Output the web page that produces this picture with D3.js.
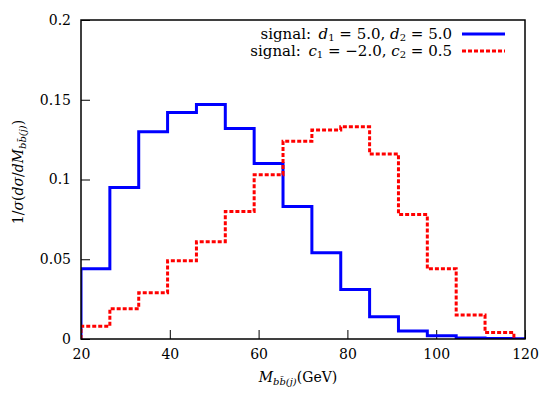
<!DOCTYPE html>
<html lang="en">
<head>
    <meta charset="UTF-8">
    <title>histogram</title>
    <style>
        body { margin: 0; background: #fff; }
        svg { display: block; }
        text { font-family: "DejaVu Serif", serif; fill: #000; }
        .axis path, .axis line { stroke: #000; }
    </style>
</head>
<body>
<script src="https://d3js.org/d3.v7.min.js"></script>
<script>
    // bin edges (GeV), bins of 6.5
    var binEdges = [20, 26.5, 33, 39.5, 46, 52.5, 59, 65.5, 72, 78.5, 85, 91.5, 98, 104.5, 111, 117.5, 124];

    // signal d1 = 5.0, d2 = 5.0
    var blueValues = [0.044, 0.095, 0.130, 0.142, 0.147, 0.132, 0.110, 0.083,
                      0.054, 0.031, 0.014, 0.005, 0.002, 0.0006, 0.0003, 0.0001];

    // signal c1 = -2.0, c2 = 0.5
    var redValues = [0.008, 0.019, 0.029, 0.049, 0.061, 0.080, 0.103, 0.124,
                     0.131, 0.133, 0.116, 0.078, 0.044, 0.015, 0.004];

    var xTicks = [20, 40, 60, 80, 100, 120];
    var yTicks = [0, 0.05, 0.1, 0.15, 0.2];
    var yTickLabels = ["0", "0.05", "0.1", "0.15", "0.2"];

    var W = 555, H = 393;
    var margin = {left: 81, right: 30, top: 20, bottom: 54};
    var fs = "14px", subFs = "10px";

    var svg = d3.select("body").append("svg")
        .attr("width", W)
        .attr("height", H);

    var x = d3.scaleLinear().domain([20, 120]).range([margin.left, W - margin.right]);
    var y = d3.scaleLinear().domain([0, 0.2]).range([H - margin.bottom, margin.top]);

    svg.append("defs").append("clipPath").attr("id", "plotclip")
        .append("rect")
        .attr("x", x(20)).attr("y", y(0.2) - 2)
        .attr("width", x(120) - x(20)).attr("height", y(0) - y(0.2) + 2);

    // axes with inward ticks
    var xAxis = d3.axisBottom(x).tickValues(xTicks).tickSizeInner(-9).tickSizeOuter(0).tickPadding(10);
    var yAxis = d3.axisLeft(y).tickValues(yTicks).tickSizeInner(-9).tickSizeOuter(0).tickPadding(10)
        .tickFormat(function (d, i) { return yTickLabels[i]; });

    var gx = svg.append("g").attr("class", "axis")
        .attr("transform", "translate(0," + y(0) + ")")
        .call(xAxis);
    gx.select(".domain").remove();
    gx.selectAll("text").style("font-size", fs);

    var gy = svg.append("g").attr("class", "axis")
        .attr("transform", "translate(" + x(20) + ",0)")
        .call(yAxis);
    gy.select(".domain").remove();
    gy.selectAll("text").style("font-size", fs);

    // step paths
    function stepPoints(vals) {
        var pts = [[binEdges[0], 0]];
        vals.forEach(function (v, i) {
            pts.push([binEdges[i], v]);
            pts.push([binEdges[i + 1], v]);
        });
        pts.push([binEdges[vals.length], 0]);
        return pts;
    }

    var line = d3.line()
        .x(function (d) { return x(d[0]); })
        .y(function (d) { return y(d[1]); });

    var plot = svg.append("g").attr("clip-path", "url(#plotclip)");

    plot.append("path")
        .attr("d", line(stepPoints(blueValues)))
        .attr("fill", "none")
        .attr("stroke", "#0000ff")
        .attr("stroke-width", 3);

    plot.append("path")
        .attr("d", line(stepPoints(redValues)))
        .attr("fill", "none")
        .attr("stroke", "#ff0000")
        .attr("stroke-width", 3)
        .attr("stroke-dasharray", "4,2");

    // border
    svg.append("rect")
        .attr("x", x(20)).attr("y", y(0.2))
        .attr("width", x(120) - x(20)).attr("height", y(0) - y(0.2))
        .attr("fill", "none")
        .attr("stroke", "#000")
        .attr("stroke-width", 1.5);

    // legend
    var legend = [
        {parts: [["signal:\u2002", ""], ["d", "i"], ["1", "s"], [" = 5.0, ", ""], ["d", "i"], ["2", "s"], [" = 5.0", ""]],
         color: "#0000ff", dash: null},
        {parts: [["signal:\u2002", ""], ["c", "i"], ["1", "s"], [" = \u22122.0, ", ""], ["c", "i"], ["2", "s"], [" = 0.5", ""]],
         color: "#ff0000", dash: "4,2"}
    ];

    legend.forEach(function (l, i) {
        var ly = 39 + i * 17;
        var t = svg.append("text")
            .attr("x", 452).attr("y", ly)
            .attr("text-anchor", "end")
            .style("font-size", "15px");
        l.parts.forEach(function (p) {
            var ts = t.append("tspan").text(p[0]);
            if (p[1] === "i") ts.style("font-style", "italic");
            if (p[1] === "s") ts.style("font-size", "10px").attr("baseline-shift", "-15%");
        });
        svg.append("line")
            .attr("x1", 462).attr("x2", 505)
            .attr("y1", ly - 5).attr("y2", ly - 5)
            .attr("stroke", l.color)
            .attr("stroke-width", 3)
            .attr("stroke-dasharray", l.dash);
    });

    // x label
    var xl = svg.append("text")
        .attr("x", 298).attr("y", 382)
        .attr("text-anchor", "middle")
        .style("font-size", fs);
    xl.append("tspan").text("M").style("font-style", "italic");
    xl.append("tspan").text("bb\u0304(j)").style("font-style", "italic")
        .style("font-size", subFs).attr("baseline-shift", "-25%");
    xl.append("tspan").text("(GeV)");

    // y label
    var yl = svg.append("text")
        .attr("transform", "translate(23,172) rotate(-90)")
        .attr("text-anchor", "middle")
        .style("font-size", fs);
    yl.append("tspan").text("1/");
    yl.append("tspan").text("\u03c3").style("font-style", "italic");
    yl.append("tspan").text("(");
    yl.append("tspan").text("d\u03c3").style("font-style", "italic");
    yl.append("tspan").text("/");
    yl.append("tspan").text("dM").style("font-style", "italic");
    yl.append("tspan").text("bb\u0304(j)").style("font-style", "italic")
        .style("font-size", subFs).attr("baseline-shift", "-25%");
    yl.append("tspan").text(")");
</script>
</body>
</html>
